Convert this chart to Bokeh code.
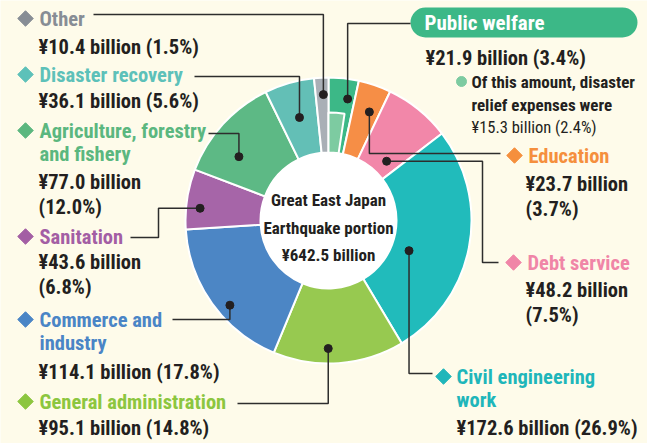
import numpy as np
from bokeh.plotting import figure
from bokeh.models import Range1d, ColumnDataSource, BoxAnnotation
from bokeh.core.properties import value
from bokeh.embed import file_html
from bokeh.resources import INLINE

# ---------------- data ----------------
categories = ["Public welfare", "Education", "Debt service", "Civil engineering\nwork",
              "General administration", "Commerce and\nindustry", "Sanitation",
              "Agriculture, forestry\nand fishery", "Disaster recovery", "Other"]
amounts = [21.9, 23.7, 48.2, 172.6, 95.1, 114.1, 43.6, 77.0, 36.1, 10.4]
shares = [3.4, 3.7, 7.5, 26.9, 14.8, 17.8, 6.8, 12.0, 5.6, 1.5]
relief_amount = 15.3
relief_share = 2.4
total_label = "¥642.5 billion"

# ---------------- style ----------------
BG = "#fefbea"
wedge_colors = ["#3cb887", "#f68e46", "#f287a9", "#21bbbb", "#97c950",
                "#4c86c5", "#a665a8", "#5db985", "#63bfb6", "#a9afb6"]
label_colors = ["#ffffff", "#f58f3d", "#f085a7", "#1fb6ba", "#8cc63f",
                "#4a85c6", "#a35ea4", "#5bb77f", "#5dc1b9", "#878d95"]
relief_color = "#7dcba1"
DARK = "#231f20"
FONT = "Roboto Condensed"
FS = "20.5px"

W, H = 647, 443


def Y(py):
    return H - py


CX, CY = 328, Y(220)
R_OUT, R_IN, R_RELIEF = 143, 68, 108

p = figure(width=W, height=H, x_range=Range1d(0, W), y_range=Range1d(0, H),
           output_backend="svg", toolbar_location=None, min_border=0,
           x_axis_location=None, y_axis_location=None)
p.grid.visible = False
p.outline_line_color = None
p.background_fill_color = BG
p.border_fill_color = BG

# ---------------- donut ----------------
fr = np.array(amounts) / np.sum(amounts)
cum = np.concatenate([[0.0], np.cumsum(fr)]) * 2 * np.pi  # clockwise from top
src = ColumnDataSource(dict(start=np.pi / 2 - cum[1:], end=np.pi / 2 - cum[:-1],
                            color=wedge_colors))
p.circle(x=[CX], y=[CY], radius=R_IN + 1, fill_color="white", line_color=None)
p.annular_wedge(x=CX, y=CY, inner_radius=R_IN, outer_radius=R_OUT,
                start_angle="start", end_angle="end", fill_color="color",
                line_color="white", line_width=2, source=src)
rel = relief_amount / np.sum(amounts) * 2 * np.pi
p.annular_wedge(x=CX, y=CY, inner_radius=R_IN, outer_radius=R_RELIEF,
                start_angle=np.pi / 2 - rel, end_angle=np.pi / 2,
                fill_color=relief_color, line_color="white", line_width=2)

# center text
for t, py in zip(["Great East Japan", "Earthquake portion", total_label], [199, 227, 254]):
    p.text(x=[CX], y=[Y(py)], text=[t], text_font=value(FONT), text_font_size="17px",
           text_font_style="bold", text_color=DARK, text_align="center",
           text_baseline="middle")

# ---------------- leaders ----------------
dot_pos = [0.73, 0.63, 0.70, 0.60, 0.58, 0.42, 0.37, 0.34, 0.51, 0.6]
dot_r = [123, 116, 83, 86, 128, 130, 129, 110, 107, 126]
steps = [
    [("y", 23), ("x", 410)],
    [("y", 153), ("x", 500)],
    [("x", 482), ("y", 262), ("x", 498)],
    [("y", 373), ("x", 432)],
    [("y", 403), ("x", 237)],
    [("y", 319), ("x", 172)],
    [("x", 158), ("y", 237), ("x", 130)],
    [("y", 133), ("x", 208)],
    [("y", 76), ("x", 194)],
    [("y", 14), ("x", 93)],
]
dx, dy, lxs, lys = [], [], [], []
for i in range(len(amounts)):
    th = cum[i] + dot_pos[i] * (cum[i + 1] - cum[i])
    x0 = CX + dot_r[i] * np.sin(th)
    y0 = CY + dot_r[i] * np.cos(th)
    xs, ys = [x0], [y0]
    for ax, v in steps[i]:
        if ax == "x":
            xs.append(v); ys.append(ys[-1])
        else:
            xs.append(xs[-1]); ys.append(Y(v))
    dx.append(x0); dy.append(y0); lxs.append(xs); lys.append(ys)
p.multi_line(xs=lxs, ys=lys, line_color="#2d2d2d", line_width=1.5)
p.scatter(x=dx, y=dy, size=8, color=DARK)

# ---------------- labels ----------------
lay = {
    1: dict(d=(514, 155), tx=528, vx=525, vy=183, split=True),
    2: dict(d=(513, 262), tx=527, vx=525, vy=289, split=True),
    3: dict(d=(443, 376), tx=456, vx=456, vy=427, split=False),
    4: dict(d=(25, 401), tx=39, vx=38, vy=427, split=False),
    5: dict(d=(25, 319), tx=39, vx=38, vy=371, split=False),
    6: dict(d=(25, 236), tx=39, vx=38, vy=261, split=True),
    7: dict(d=(25, 130), tx=39, vx=38, vy=181, split=True),
    8: dict(d=(25, 74), tx=39, vx=38, vy=100, split=False),
    9: dict(d=(25, 18), tx=39, vx=38, vy=46, split=False),
}
LH = 23.5
cat_x, cat_y, cat_t, cat_c = [], [], [], []
val_x, val_y, val_t = [], [], []
dmx, dmy, dmc = [], [], []
for i, L in lay.items():
    dmx.append(L["d"][0]); dmy.append(Y(L["d"][1])); dmc.append(label_colors[i])
    for k, line in enumerate(categories[i].split("\n")):
        cat_x.append(L["tx"]); cat_y.append(Y(L["d"][1] + k * LH))
        cat_t.append(line); cat_c.append(label_colors[i])
    s = f"¥{amounts[i]:.1f} billion"
    q = f"({shares[i]:.1f}%)"
    lines = [s, q] if L["split"] else [s + " " + q]
    for k, line in enumerate(lines):
        val_x.append(L["vx"]); val_y.append(Y(L["vy"] + k * 25)); val_t.append(line)

p.scatter(x=dmx, y=dmy, marker="square", angle=np.pi / 4, size=11, color=dmc)
p.text(x="x", y="y", text="t", text_color="c",
       source=ColumnDataSource(dict(x=cat_x, y=cat_y, t=cat_t, c=cat_c)),
       text_font=value(FONT), text_font_size=FS, text_font_style="bold",
       text_baseline="middle", text_align="left")
p.text(x=val_x, y=val_y, text=val_t, text_color=DARK, text_font=value(FONT),
       text_font_size=FS, text_font_style="bold", text_baseline="middle",
       text_align="left")

# public welfare box
box = BoxAnnotation(left=410, right=637, top=Y(7), bottom=Y(37), fill_color=wedge_colors[0],
                    fill_alpha=1, line_color=None, border_radius=15, level="underlay")
p.add_layout(box)
p.text(x=[424], y=[Y(22)], text=[categories[0]], text_color="white", text_font=value(FONT),
       text_font_size="21px", text_font_style="bold", text_baseline="middle")
p.text(x=[425], y=[Y(57)], text=[f"¥{amounts[0]:.1f} billion ({shares[0]:.1f}%)"],
       text_color=DARK, text_font=value(FONT), text_font_size=FS,
       text_font_style="bold", text_baseline="middle")
p.scatter(x=[461], y=[Y(81)], size=10, color=relief_color)
p.text(x=[471, 471], y=[Y(81), Y(104)],
       text=["Of this amount, disaster", "relief expenses were"],
       text_color=DARK, text_font=value(FONT), text_font_size="17px",
       text_font_style="bold", text_baseline="middle")
p.text(x=[471], y=[Y(127)], text=[f"¥{relief_amount:.1f} billion ({relief_share:.1f}%)"],
       text_color=DARK, text_font=value(FONT), text_font_size="16.5px",
       text_font_style="normal", text_baseline="middle")

open("out.html", "w").write(file_html(p, INLINE))
